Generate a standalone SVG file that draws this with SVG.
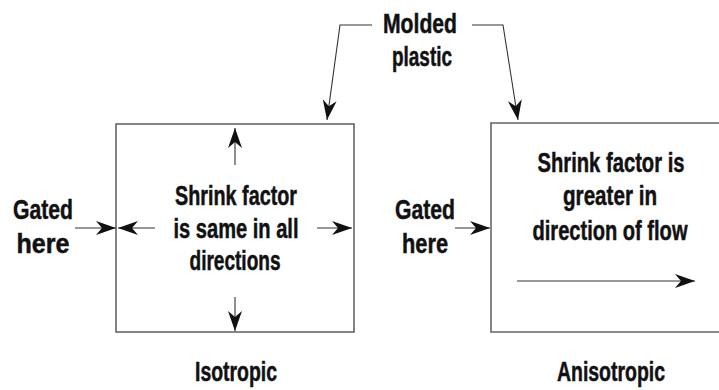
<svg xmlns="http://www.w3.org/2000/svg" width="719" height="390" viewBox="0 0 719 390">
<style>
.t{font-family:"Liberation Sans","DejaVu Sans",sans-serif;font-weight:bold;font-size:28px;fill:#111;stroke:#111;stroke-width:0.5;text-anchor:middle}
.box{fill:none;stroke:#666;stroke-width:1.6}
.ln{fill:none;stroke:#333;stroke-width:1.1}
</style>
<defs>
<marker id="ah" markerUnits="userSpaceOnUse" markerWidth="22" markerHeight="16" refX="20" refY="7" orient="auto">
<path d="M0,0 L20,7 L0,14 L6,7 z" fill="#111"/>
</marker>
</defs>
<rect width="719" height="390" fill="#fff"/>
<g id="molded">
<text class="t" x="420" y="33" textLength="74" lengthAdjust="spacingAndGlyphs">Molded</text>
<text class="t" x="422" y="66" textLength="60" lengthAdjust="spacingAndGlyphs">plastic</text>
</g>
<g id="isotropic">
<rect class="box" x="116" y="124" width="238" height="208"/>
<text class="t" x="236" y="205" textLength="122" lengthAdjust="spacingAndGlyphs">Shrink factor</text>
<text class="t" x="236" y="238" textLength="125" lengthAdjust="spacingAndGlyphs">is same in all</text>
<text class="t" x="235" y="270" textLength="91" lengthAdjust="spacingAndGlyphs">directions</text>
<text class="t" x="236" y="381" textLength="82" lengthAdjust="spacingAndGlyphs">Isotropic</text>
</g>
<g id="gated-left">
<text class="t" x="43" y="219" textLength="60" lengthAdjust="spacingAndGlyphs">Gated</text>
<text class="t" x="43" y="253" textLength="53" lengthAdjust="spacingAndGlyphs">here</text>
</g>
<g id="anisotropic">
<path class="box" d="M719,123 L491,123 L491,332 L719,332"/>
<text class="t" x="611" y="172" textLength="147" lengthAdjust="spacingAndGlyphs">Shrink factor is</text>
<text class="t" x="610" y="205" textLength="94" lengthAdjust="spacingAndGlyphs">greater in</text>
<text class="t" x="610" y="240" textLength="155" lengthAdjust="spacingAndGlyphs">direction of flow</text>
<text class="t" x="611" y="381" textLength="108" lengthAdjust="spacingAndGlyphs">Anisotropic</text>
</g>
<g id="gated-right">
<text class="t" x="425" y="219" textLength="60" lengthAdjust="spacingAndGlyphs">Gated</text>
<text class="t" x="425" y="253" textLength="46" lengthAdjust="spacingAndGlyphs">here</text>
</g>
<g id="connectors">
<path class="ln" d="M372,25 L340,25 L327,120" marker-end="url(#ah)"/>
<path class="ln" d="M472,25 L503,25 L518,120" marker-end="url(#ah)"/>
<path class="ln" d="M75,228 L116,228" marker-end="url(#ah)"/>
<path class="ln" d="M155,228 L118,228" marker-end="url(#ah)"/>
<path class="ln" d="M317,228 L352,228" marker-end="url(#ah)"/>
<path class="ln" d="M235,165 L235,128" marker-end="url(#ah)"/>
<path class="ln" d="M235,297 L235,331" marker-end="url(#ah)"/>
<path class="ln" d="M455,228 L490,228" marker-end="url(#ah)"/>
<path class="ln" d="M517,281 L695,281" marker-end="url(#ah)"/>
</g>
</svg>
